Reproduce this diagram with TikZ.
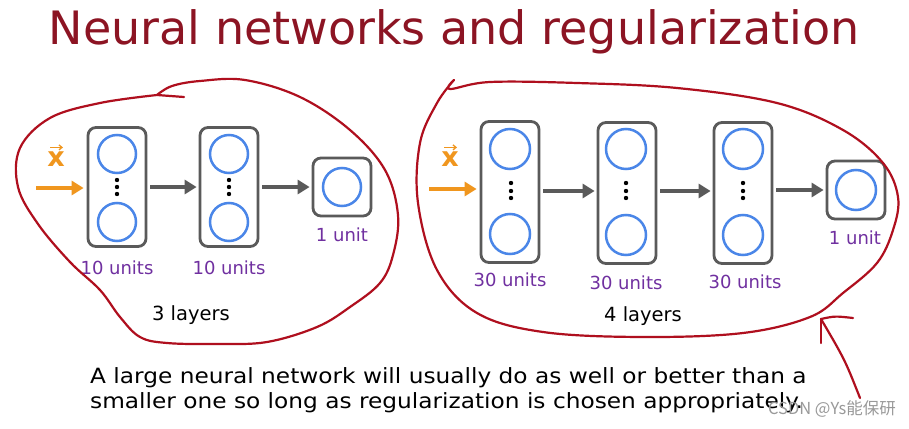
\documentclass[tikz,border=0pt]{standalone}
\usepackage{fontspec}
\usepackage{graphicx}
\setmainfont{DejaVu Sans}
\newfontfamily\cjkfont{Noto Sans CJK SC}
\usetikzlibrary{arrows.meta}
\definecolor{titlered}{RGB}{140,20,35}
\definecolor{penred}{RGB}{175,15,30}
\definecolor{boxgray}{RGB}{90,90,90}
\definecolor{unitblue}{RGB}{74,134,232}
\definecolor{xorange}{RGB}{240,150,30}
\definecolor{unitpurple}{RGB}{112,48,160}
\tikzset{
  layerbox/.style={draw=boxgray, line width=2.8pt, rounded corners=8pt, minimum width=58pt, minimum height=119pt, inner sep=0pt},
  outbox/.style={draw=boxgray, line width=2.8pt, rounded corners=8pt, minimum width=58pt, minimum height=58pt, inner sep=0pt},
  unit/.style={draw=unitblue, line width=2.5pt, circle, minimum size=38pt, inner sep=0pt},
  flow/.style={draw=boxgray, line width=4pt, -{Triangle[length=12pt, width=14pt]}, shorten <=3pt, shorten >=2pt},
  inflow/.style={draw=xorange, line width=4pt, -{Triangle[length=12pt, width=14pt]}, shorten >=3pt},
  unitlabel/.style={text=unitpurple, font=\fontsize{18}{22}\selectfont},
  layerlabel/.style={text=black, font=\fontsize{19.5}{24}\selectfont},
  xlabel/.style={text=xorange, inner sep=0pt, font=\fontsize{27}{30}\selectfont},
  xarrow/.style={draw=xorange, line width=1.3pt, -{Straight Barb[length=3pt, width=5pt]}},
  pen/.style={draw=penred, line width=2.2pt, line cap=round, line join=round},
  dotmark/.style={fill=black}
}
\begin{document}
\begin{tikzpicture}[x=1pt,y=-1pt]
\useasboundingbox (0,0) rectangle (909,428);
\fill[white] (0,0) rectangle (909,428);

% title
\node[text=titlered, font=\fontsize{46}{50}\selectfont] (title) at (454,32) {Neural networks and regularization};

% ---------- left network ----------
\node[layerbox] (l1) at (117,187) {};
\node[layerbox] (l2) at (229,187) {};
\node[outbox] (l3) at (342,187) {};
\node[unit] (l1a) at (117,154) {};
\node[unit] (l1b) at (117,222) {};
\node[unit] (l2a) at (229,154) {};
\node[unit] (l2b) at (229,222) {};
\node[unit] (l3a) at (342,187) {};
\foreach \cx in {117,229}{
  \foreach \cy in {180,187,194}{ \fill[dotmark] (\cx,\cy) circle (2.2pt); }
}
\coordinate (lin) at (36,188);
\node[xlabel] (lx) at (56,159) {$\mathbf{x}$};
\draw[xarrow] ([xshift=-6pt]lx.north) ++(0,-4) coordinate (lxa) -- ++(13,0) coordinate (lxb);
\draw[inflow] (lin) -- (l1.west |- lin);
\draw[flow] (l1.east) -- (l2.west);
\draw[flow] (l2.east) -- (l3.west);
\node[unitlabel] (l1t) at (117,268) {10 units};
\node[unitlabel] (l2t) at (229,268) {10 units};
\node[unitlabel] (l3t) at (342,235) {1 unit};
\node[layerlabel] (llay) at (191,315) {3 layers};

% ---------- right network ----------
\node[layerbox, minimum height=141pt] (r1) at (510,192) {};
\node[layerbox, minimum height=141pt] (r2) at (627,193) {};
\node[layerbox, minimum height=141pt] (r3) at (743,193) {};
\node[outbox] (r4) at (856,190) {};
\node[unit, minimum size=40pt] (r1a) at (510,149) {};
\node[unit, minimum size=40pt] (r1b) at (510,234) {};
\node[unit, minimum size=40pt] (r2a) at (626,149) {};
\node[unit, minimum size=40pt] (r2b) at (626,235) {};
\node[unit, minimum size=40pt] (r3a) at (743,149) {};
\node[unit, minimum size=40pt] (r3b) at (743,235) {};
\node[unit, minimum size=40pt] (r4a) at (856,190) {};
\foreach \cx in {511,626,743}{
  \foreach \cy in {183,191,198}{ \fill[dotmark] (\cx,\cy) circle (2.2pt); }
}
\coordinate (rin) at (429,189);
\node[xlabel] (rx) at (450,159) {$\mathbf{x}$};
\draw[xarrow] ([xshift=-6pt]rx.north) ++(0,-4) coordinate (rxa) -- ++(13,0) coordinate (rxb);
\draw[inflow] (rin) -- (r1.west |- rin);
\draw[flow] (r1.east |- 0,191) -- (r2.west |- 0,191);
\draw[flow] (r2.east |- 0,191) -- (r3.west |- 0,191);
\draw[flow] (r3.east |- 0,190) -- (r4.west |- 0,190);
\node[unitlabel] (r1t) at (510,280) {30 units};
\node[unitlabel] (r2t) at (626,283) {30 units};
\node[unitlabel] (r3t) at (745,282) {30 units};
\node[unitlabel] (r4t) at (855,238) {1 unit};
\node[layerlabel] (rlay) at (643,316) {4 layers};

% ---------- hand-drawn red annotations ----------
\draw[pen] (157,95) -- (184,97);
\draw[pen] plot[smooth, tension=0.6] coordinates {(157,95) (172,86) (200,81) (245,80) (300,97) (350,130) (385,170) (398,215) (393,255) (380,283) (350,307) (317,327) (267,342) (217,344) (167,343) (140,337) (120,317) (100,290) (70,262) (38,224) (18,187) (20,148) (50,118) (100,103) (157,95)};
\draw[pen] plot[smooth, tension=0.6] coordinates {(454,80) (450,89) (490,82) (577,83) (677,88) (777,103) (843,130) (883,163) (898,197) (893,230) (877,263) (843,293) (810,317) (743,333) (643,337) (543,332) (477,313) (437,270) (418,203) (420,143) (437,103) (454,80)};
\coordinate (atip) at (821,319);
\coordinate (atail) at (860,398);
\draw[pen] (atail) .. controls (845,360) .. (atip);
\draw[pen] (atip) -- (821,343);
\draw[pen] (atip) .. controls (835,316) .. (853,318);

% ---------- bottom text ----------
\node[anchor=north west, inner sep=0pt] (note) at (90,365.5) {\fontsize{21}{25}\selectfont\scalebox{1.107}[1]{\begin{tabular}{@{}l@{}}A large neural network will usually do as well or better than a\\smaller one so long as regularization is chosen appropriately.\end{tabular}}};
\node[anchor=east, inner sep=0pt, text=black!40, font=\cjkfont\fontsize{16.5}{18}\selectfont] (wm) at (896,409) {CSDN @Ys能保研};
\end{tikzpicture}
\end{document}
